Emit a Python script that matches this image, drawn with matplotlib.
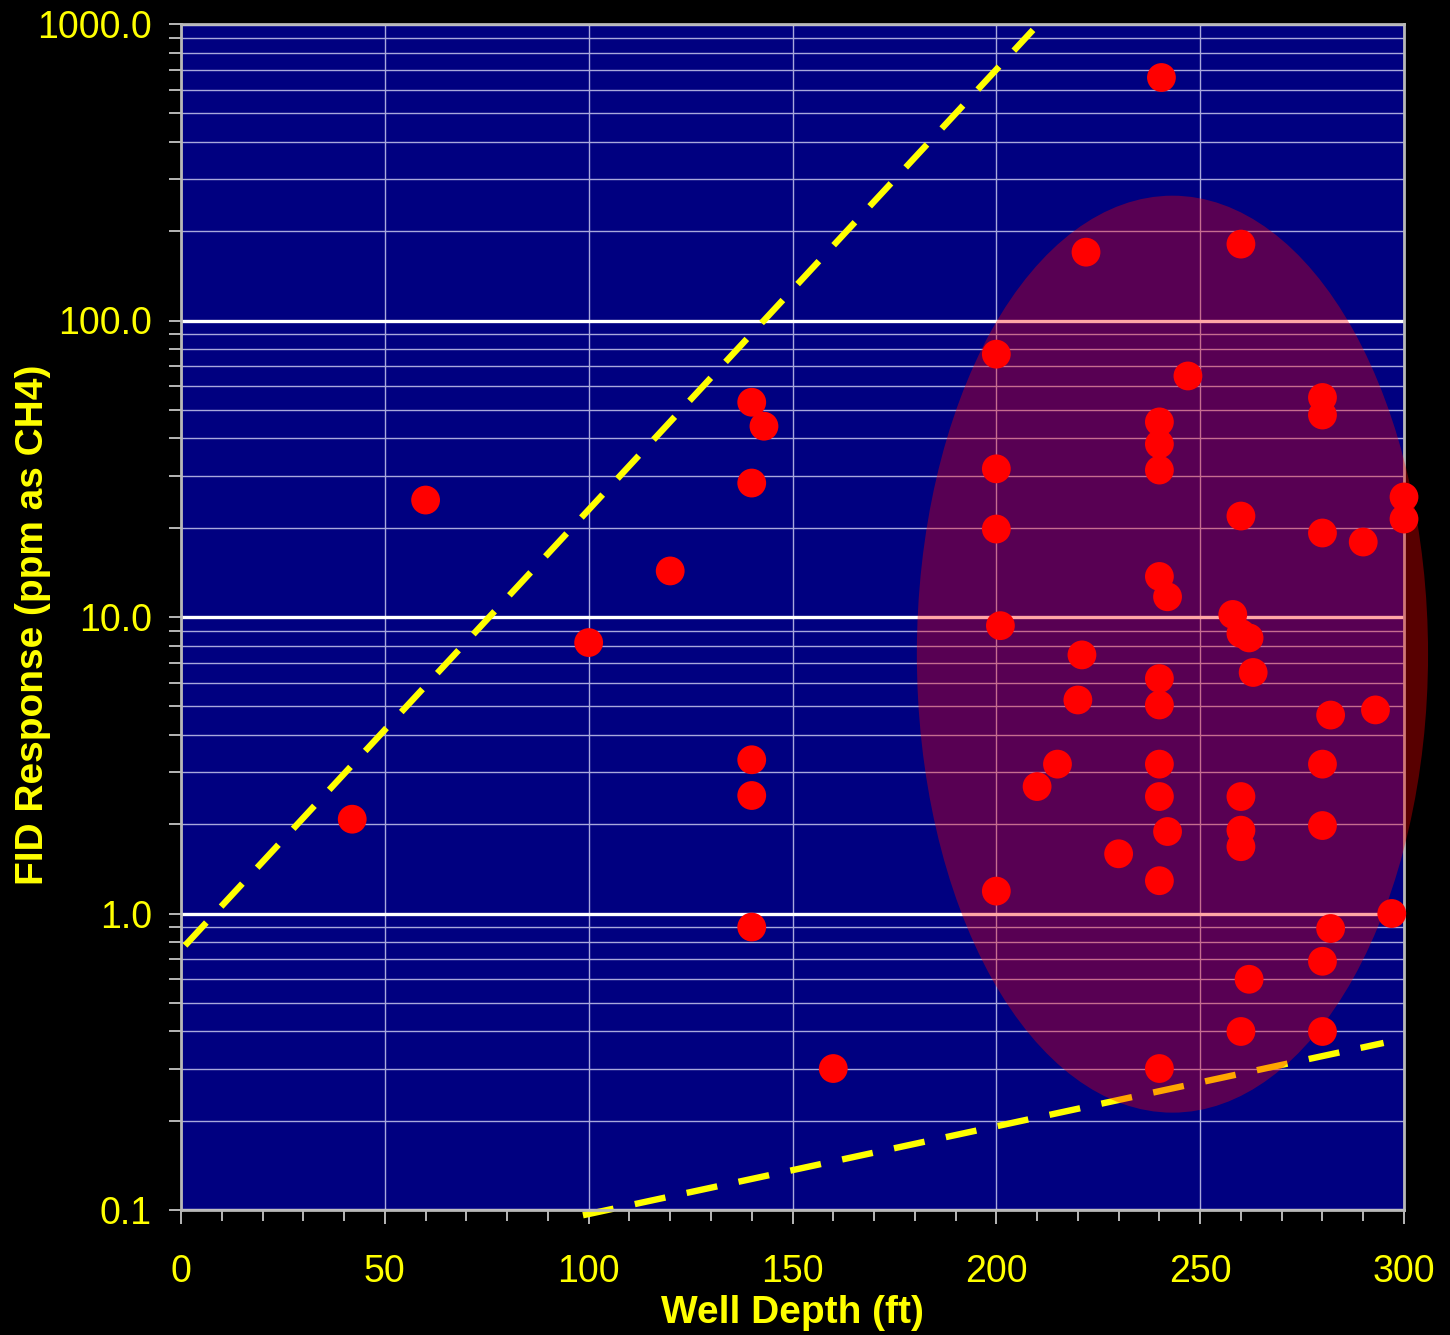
#!/usr/bin/env python
# -*- coding: utf-8 -*-
# FID response vs well depth (log scale), highlighted cluster + envelope lines

import matplotlib
matplotlib.use("Agg")
from matplotlib import pyplot as plt
from matplotlib.patches import Ellipse
from matplotlib.ticker import FixedLocator, FixedFormatter, MultipleLocator, NullFormatter

#-----------------------------------------------------------------------------------------
#                                           DATA
#-----------------------------------------------------------------------------------------
depth = [42, 60, 100, 120, 140, 143, 140, 140, 140, 140, 160,
         240.5, 222, 260, 200, 247, 280, 280, 240, 240, 240,
         200, 200, 260, 280, 290, 300, 300, 240, 242, 258,
         260, 262, 263, 201, 221, 240, 220, 240, 282, 293,
         215, 210, 240, 280, 240, 260, 242, 260, 260, 280,
         230, 240, 200, 297, 282, 280, 262, 260, 280, 240]
fid = [2.08, 24.8, 8.2, 14.3, 53, 44, 28.3, 3.3, 2.5, 0.9, 0.3,
       660, 170, 181, 77, 65, 55, 48, 45.5, 38.3, 31.3,
       31.6, 19.8, 21.9, 19.2, 17.9, 25.4, 21.4, 13.7, 11.7, 10.2,
       8.8, 8.5, 6.5, 9.35, 7.45, 6.2, 5.25, 5.05, 4.67, 4.86,
       3.19, 2.68, 3.19, 3.19, 2.48, 2.48, 1.89, 1.91, 1.68, 1.98,
       1.59, 1.29, 1.19, 1.0, 0.89, 0.69, 0.6, 0.4, 0.4, 0.3]

# envelope lines (end points)
upper_x = [1, 209]
upper_y = [0.78, 955]
lower_x = [98.6, 295]
lower_y = [0.096, 0.366]

# highlighted cluster: bounding box of the ellipse in data units
cluster_x = [180.5, 305.9]
cluster_y = [0.213, 263.6]

yticks = [0.1, 1, 10, 100, 1000]
ytick_labels = ['0.1', '1.0', '10.0', '100.0', '1000.0']
xticks = [0, 50, 100, 150, 200, 250, 300]

#-----------------------------------------------------------------------------------------
#                                           PLOT
#-----------------------------------------------------------------------------------------
YELLOW = '#FFFF00'
NAVY = '#000080'
GREY = '#B8B8B8'

plt.rcParams['font.family'] = ['Liberation Sans', 'DejaVu Sans']

fig = plt.figure(figsize=(14.5, 13.35), dpi=100, facecolor='black')
ax = fig.add_axes([181/1450, 1-1210/1335, 1223/1450, 1186/1335])
ax.set_facecolor(NAVY)
ax.set_yscale('log')
ax.set_xlim(0, 300)
ax.set_ylim(0.1, 1000)
ax.set_axisbelow(True)

# ticks
ax.xaxis.set_major_locator(FixedLocator(xticks))
ax.xaxis.set_minor_locator(MultipleLocator(10))
ax.yaxis.set_major_locator(FixedLocator(yticks))
ax.yaxis.set_major_formatter(FixedFormatter(ytick_labels))
ax.yaxis.set_minor_formatter(NullFormatter())
ax.tick_params(axis='both', which='both', colors=GREY, width=1.4, direction='out')
ax.tick_params(axis='x', which='major', length=10, pad=22, labelsize=27, labelcolor=YELLOW)
ax.tick_params(axis='x', which='minor', length=8)
ax.tick_params(axis='y', which='major', length=9, pad=12, labelsize=27, labelcolor=YELLOW)
ax.tick_params(axis='y', which='minor', length=9)

for side in ax.spines:
    ax.spines[side].set_color(GREY)
    ax.spines[side].set_linewidth(2)

# grid
ax.grid(True, axis='y', which='major', color='white', linewidth=2.4)
ax.grid(True, axis='y', which='minor', color='#A8A8DC', linewidth=1.0)
ax.grid(True, axis='x', which='major', color='#A8A8DC', linewidth=1.0)

# envelope lines
for lx, ly in ((upper_x, upper_y), (lower_x, lower_y)):
    ax.plot(lx, ly, color=YELLOW, linewidth=4.6, dashes=(4.9, 3.4),
            dash_capstyle='butt', zorder=2, clip_on=False)

# cluster ellipse (drawn in axes space so it stays a true ellipse on log axis)
to_axes = ax.transData + ax.transAxes.inverted()
(ex0, ey0), (ex1, ey1) = to_axes.transform([(cluster_x[0], cluster_y[0]),
                                            (cluster_x[1], cluster_y[1])])
ell = Ellipse(((ex0+ex1)/2, (ey0+ey1)/2), ex1-ex0, ey1-ey0, transform=ax.transAxes,
              facecolor='red', edgecolor='none', alpha=0.35, zorder=3, clip_on=False)
ax.add_patch(ell)

# data points
ax.scatter(depth, fid, s=430, color='red', edgecolors='none', zorder=4, clip_on=False)

ax.set_xlabel("Well Depth (ft)", color=YELLOW, fontsize=28, fontweight='bold')
ax.xaxis.set_label_coords(0.5, -0.072)
ax.set_ylabel("FID Response (ppm as CH4)", color=YELLOW, fontsize=28, fontweight='bold')
ax.yaxis.set_label_coords(-0.106, 0.493)

fig.savefig('out.png', dpi=100, facecolor='black')
